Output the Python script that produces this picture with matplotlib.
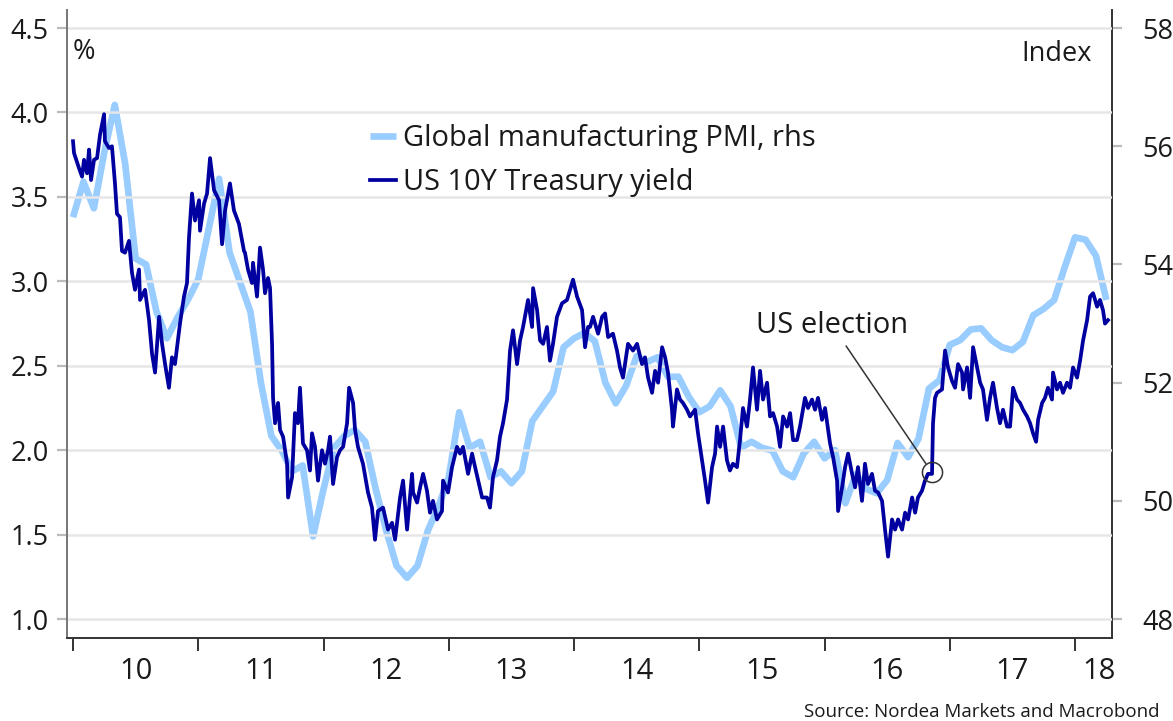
import matplotlib
matplotlib.use("Agg")
import matplotlib.pyplot as plt
import numpy as np

plt.rcParams['font.family'] = ['Open Sans', 'DejaVu Sans']

# ---------------- data ----------------
# Global manufacturing PMI (monthly, Jan 2010 -> Apr 2018), right axis
pmi_start_year = 2010
pmi_values = [
    54.8, 55.4, 54.95, 55.9, 56.7, 55.7, 54.1, 54.0, 53.2, 52.75, 53.1, 53.4,   # 2010
    53.75, 54.6, 55.45, 54.2, 53.7, 53.2, 52.0, 51.1, 50.85, 50.5, 50.6, 49.4,  # 2011
    50.2, 50.9, 51.1, 51.2, 51.0, 50.2, 49.5, 48.9, 48.7, 48.9, 49.5, 49.9,     # 2012
    50.4, 51.5, 50.9, 51.0, 50.4, 50.5, 50.3, 50.5, 51.35, 51.6, 51.85, 52.6,   # 2013
    52.75, 52.84, 52.7, 52.0, 51.65, 51.95, 52.45, 52.35, 52.43, 52.1, 52.1, 51.76,  # 2014
    51.5, 51.6, 51.87, 51.6, 50.9, 51.0, 50.9, 50.85, 50.5, 50.4, 50.8, 51.0,   # 2015
    50.72, 50.86, 49.96, 50.45, 50.2, 50.13, 50.35, 50.98, 50.74, 51.05, 51.9, 52.04,  # 2016
    52.64, 52.72, 52.9, 52.92, 52.72, 52.6, 52.55, 52.69, 53.14, 53.25, 53.4, 53.95,   # 2017
    54.46, 54.42, 54.15, 53.4,                                                  # 2018
]

# US 10Y Treasury yield (%), left axis: decimal year and value
yield_time = [
    2010.000, 2010.008, 2010.048, 2010.072, 2010.088, 2010.112, 2010.128, 2010.144, 2010.168, 2010.192,
    2010.216, 2010.248, 2010.255, 2010.287, 2010.311, 2010.335, 2010.351, 2010.375, 2010.391, 2010.415,
    2010.447, 2010.471, 2010.495, 2010.527, 2010.535, 2010.575, 2010.607, 2010.631, 2010.655, 2010.687,
    2010.711, 2010.735, 2010.766, 2010.790, 2010.814, 2010.854, 2010.886, 2010.910, 2010.926, 2010.950,
    2010.974, 2011.006, 2011.014, 2011.046, 2011.070, 2011.094, 2011.126, 2011.166, 2011.190, 2011.214,
    2011.253, 2011.285, 2011.325, 2011.365, 2011.373, 2011.397, 2011.429, 2011.437, 2011.469, 2011.493,
    2011.517, 2011.533, 2011.557, 2011.573, 2011.589, 2011.597, 2011.613, 2011.637, 2011.653, 2011.677,
    2011.709, 2011.717, 2011.749, 2011.772, 2011.796, 2011.812, 2011.836, 2011.868, 2011.892, 2011.908,
    2011.932, 2011.956, 2011.988, 2012.012, 2012.036, 2012.052, 2012.076, 2012.108, 2012.132, 2012.156,
    2012.188, 2012.204, 2012.236, 2012.252, 2012.275, 2012.315, 2012.355, 2012.387, 2012.411, 2012.435,
    2012.475, 2012.515, 2012.547, 2012.571, 2012.611, 2012.635, 2012.667, 2012.707, 2012.715, 2012.747,
    2012.771, 2012.795, 2012.826, 2012.850, 2012.874, 2012.906, 2012.946, 2012.954, 2012.994, 2013.026,
    2013.066, 2013.090, 2013.114, 2013.154, 2013.186, 2013.210, 2013.266, 2013.305, 2013.329, 2013.353,
    2013.385, 2013.409, 2013.433, 2013.465, 2013.489, 2013.513, 2013.545, 2013.569, 2013.593, 2013.633,
    2013.665, 2013.673, 2013.705, 2013.729, 2013.753, 2013.784, 2013.808, 2013.832, 2013.864, 2013.904,
    2013.944, 2013.992, 2014.024, 2014.064, 2014.088, 2014.112, 2014.128, 2014.152, 2014.192, 2014.224,
    2014.248, 2014.272, 2014.311, 2014.343, 2014.367, 2014.391, 2014.431, 2014.471, 2014.503, 2014.543,
    2014.567, 2014.591, 2014.623, 2014.647, 2014.671, 2014.703, 2014.727, 2014.750, 2014.782, 2014.790,
    2014.822, 2014.846, 2014.870, 2014.902, 2014.926, 2014.966, 2014.990, 2015.022, 2015.046, 2015.070,
    2015.102, 2015.126, 2015.142, 2015.166, 2015.190, 2015.221, 2015.245, 2015.269, 2015.301, 2015.325,
    2015.349, 2015.381, 2015.405, 2015.429, 2015.461, 2015.485, 2015.509, 2015.541, 2015.565, 2015.589,
    2015.621, 2015.645, 2015.669, 2015.701, 2015.725, 2015.749, 2015.780, 2015.804, 2015.844, 2015.868,
    2015.900, 2015.924, 2015.948, 2015.980, 2016.004, 2016.044, 2016.068, 2016.100, 2016.108, 2016.140,
    2016.164, 2016.188, 2016.220, 2016.244, 2016.267, 2016.299, 2016.323, 2016.347, 2016.379, 2016.403,
    2016.427, 2016.459, 2016.483, 2016.507, 2016.539, 2016.563, 2016.587, 2016.619, 2016.643, 2016.667,
    2016.699, 2016.723, 2016.746, 2016.778, 2016.802, 2016.826, 2016.858, 2016.866, 2016.882, 2016.898,
    2016.938, 2016.962, 2016.986, 2017.018, 2017.042, 2017.066, 2017.098, 2017.106, 2017.138, 2017.162,
    2017.186, 2017.218, 2017.242, 2017.265, 2017.297, 2017.321, 2017.345, 2017.377, 2017.401, 2017.425,
    2017.457, 2017.481, 2017.505, 2017.537, 2017.561, 2017.585, 2017.617, 2017.641, 2017.665, 2017.689,
    2017.705, 2017.737, 2017.760, 2017.784, 2017.816, 2017.824, 2017.856, 2017.880, 2017.904, 2017.936,
    2017.960, 2017.984, 2018.016, 2018.040, 2018.064, 2018.096, 2018.120, 2018.144, 2018.176, 2018.199,
    2018.223, 2018.239, 2018.263,
]
yield_values = [
    3.83, 3.76, 3.67, 3.62, 3.72, 3.64, 3.78, 3.60, 3.72, 3.73,
    3.87, 3.99, 3.83, 3.79, 3.80, 3.58, 3.40, 3.38, 3.18, 3.17,
    3.24, 3.05, 2.95, 3.07, 2.89, 2.95, 2.77, 2.57, 2.46, 2.79,
    2.63, 2.51, 2.37, 2.55, 2.51, 2.75, 2.91, 2.99, 3.26, 3.52,
    3.36, 3.48, 3.30, 3.46, 3.52, 3.73, 3.54, 3.48, 3.22, 3.42,
    3.58, 3.42, 3.34, 3.18, 3.17, 3.07, 2.99, 3.11, 2.91, 3.20,
    3.07, 2.93, 3.02, 2.96, 2.63, 2.31, 2.16, 2.28, 2.12, 2.08,
    1.92, 1.72, 1.84, 2.22, 2.16, 2.37, 2.04, 2.00, 1.88, 2.10,
    2.02, 1.82, 2.00, 1.92, 2.00, 2.08, 1.80, 1.96, 2.00, 2.02,
    2.16, 2.37, 2.28, 2.12, 2.02, 1.92, 1.75, 1.66, 1.47, 1.64,
    1.66, 1.53, 1.57, 1.47, 1.72, 1.82, 1.53, 1.86, 1.75, 1.69,
    1.78, 1.86, 1.76, 1.63, 1.70, 1.59, 1.64, 1.82, 1.75, 1.90,
    2.02, 1.98, 2.02, 1.86, 1.98, 1.90, 1.72, 1.72, 1.66, 1.84,
    1.94, 2.08, 2.16, 2.30, 2.59, 2.71, 2.51, 2.65, 2.73, 2.89,
    2.73, 2.96, 2.83, 2.65, 2.63, 2.73, 2.53, 2.63, 2.79, 2.87,
    2.89, 3.01, 2.91, 2.83, 2.61, 2.73, 2.73, 2.79, 2.69, 2.79,
    2.81, 2.67, 2.69, 2.59, 2.49, 2.43, 2.63, 2.59, 2.63, 2.51,
    2.55, 2.43, 2.34, 2.47, 2.40, 2.61, 2.55, 2.46, 2.24, 2.14,
    2.36, 2.30, 2.28, 2.24, 2.20, 2.24, 2.10, 1.94, 1.82, 1.69,
    1.90, 1.98, 2.14, 2.02, 2.14, 1.94, 1.88, 1.92, 1.90, 2.06,
    2.25, 2.14, 2.30, 2.49, 2.24, 2.47, 2.30, 2.40, 2.20, 2.22,
    2.14, 2.02, 2.20, 2.14, 2.22, 2.06, 2.06, 2.14, 2.31, 2.25,
    2.30, 2.24, 2.31, 2.18, 2.25, 2.04, 1.96, 1.82, 1.64, 1.78,
    1.90, 1.98, 1.86, 1.78, 1.90, 1.70, 1.92, 1.80, 1.86, 1.76,
    1.75, 1.70, 1.53, 1.37, 1.59, 1.53, 1.59, 1.53, 1.63, 1.59,
    1.72, 1.63, 1.72, 1.76, 1.82, 1.86, 1.86, 2.16, 2.31, 2.34,
    2.36, 2.59, 2.49, 2.41, 2.37, 2.51, 2.46, 2.36, 2.49, 2.31,
    2.61, 2.49, 2.40, 2.36, 2.18, 2.31, 2.40, 2.25, 2.16, 2.24,
    2.14, 2.14, 2.37, 2.30, 2.28, 2.24, 2.20, 2.16, 2.10, 2.05,
    2.18, 2.28, 2.31, 2.37, 2.30, 2.46, 2.36, 2.40, 2.34, 2.40,
    2.37, 2.49, 2.43, 2.53, 2.65, 2.77, 2.91, 2.93, 2.85, 2.89,
    2.83, 2.75, 2.77,
]

year_labels = ['10', '11', '12', '13', '14', '15', '16', '17', '18']
left_ticks = [1.0, 1.5, 2.0, 2.5, 3.0, 3.5, 4.0, 4.5]
right_ticks = [48, 50, 52, 54, 56, 58]
election_time = 2016.855
election_yield = 1.87

# ---------------- figure ----------------
LIGHT = '#99CCFF'
DARK = '#0000A0'
TXT = '#1a1a1a'

fig = plt.figure(figsize=(11.73, 7.21), dpi=100)
ax = fig.add_axes([67 / 1173, 1 - 638 / 721, (1112 - 67) / 1173, (638 - 10) / 721])
ax2 = ax.twinx()

pmi_time = [pmi_start_year + i / 12 for i in range(len(pmi_values))]

ylo, yhi = 0.888, 4.607
ax.set_ylim(ylo, yhi)
ax2.set_ylim(48 + (ylo - 1) * 10 / 3.5, 48 + (yhi - 1) * 10 / 3.5)
ax.set_xlim(2009.952, 2018.295)

# grid
for v in left_ticks:
    ax.axhline(v, color='#E6E6E6', lw=1.8, zorder=0)

l_pmi, = ax2.plot(pmi_time, pmi_values, color=LIGHT, lw=4.8, solid_joinstyle='round',
                  solid_capstyle='butt', zorder=2)
l_y, = ax.plot(yield_time, yield_values, color=DARK, lw=2.7, zorder=3)
ax.set_zorder(ax2.get_zorder() + 1)
ax.patch.set_visible(False)

# spines
for a in (ax, ax2):
    a.spines['top'].set_visible(False)
ax.spines['left'].set_color('#777777')
ax.spines['left'].set_linewidth(1.4)
ax2.spines['left'].set_visible(False)
ax.spines['right'].set_visible(False)
ax2.spines['right'].set_color('#333333')
ax2.spines['right'].set_linewidth(1.4)
ax.spines['bottom'].set_color('#333333')
ax.spines['bottom'].set_linewidth(1.4)
ax2.spines['bottom'].set_visible(False)

# y ticks
ax.set_yticks(left_ticks)
ax.set_yticklabels([f'{v:.1f}' for v in left_ticks])
ax.tick_params(axis='y', direction='out', length=7, width=1.6, color='#BBBBBB',
               labelsize=19.5, labelcolor=TXT, pad=6)
ax2.set_yticks(right_ticks)
ax2.set_yticklabels([str(v) for v in right_ticks])
ax2.tick_params(axis='y', direction='out', length=7, width=1.6, color='#BBBBBB',
                labelsize=19.5, labelcolor=TXT, pad=15)

# x ticks: marks at year boundaries, labels mid-year
years = list(range(2010, 2019))
ax.set_xticks(years)
ax.set_xticklabels([])
ax.tick_params(axis='x', which='major', direction='out', length=9, width=1.4, color='#333333')
label_pos = [y + 0.5 for y in years[:-1]] + [2018.19]
ax.set_xticks(label_pos, minor=True)
ax.set_xticklabels(year_labels, minor=True)
ax.tick_params(axis='x', which='minor', length=0, labelsize=21, labelcolor=TXT, pad=14)

# unit labels
ax.text(73 / 1173, 1 - 59 / 721, '%', transform=fig.transFigure, fontsize=19.5,
        color=TXT, ha='left', va='baseline')
ax.text(1092 / 1173, 1 - 61 / 721, 'Index', transform=fig.transFigure, fontsize=19.5,
        color=TXT, ha='right', va='baseline')

# legend
leg = ax.legend([l_pmi, l_y], ['Global manufacturing PMI, rhs', 'US 10Y Treasury yield'],
                loc='upper left', bbox_to_anchor=((370 - 67) / 1045, (638 - 124) / 628),
                frameon=False, fontsize=20.9, handlelength=0.9, handletextpad=0.22,
                labelspacing=0.52, borderaxespad=0, borderpad=0)
for t in leg.get_texts():
    t.set_color(TXT)

# US election annotation
ax.plot([election_time], [election_yield], marker='o', markersize=14.5, markerfacecolor='none',
        markeredgecolor='#333333', markeredgewidth=1.1, zorder=5)
ax.annotate('US election', xy=(election_time, election_yield), xytext=(2016.06, 2.74),
            ha='center', va='center', fontsize=21, color=TXT,
            arrowprops=dict(arrowstyle='-', color='#333333', lw=1.1, shrinkA=3, shrinkB=7.5))

fig.text(1160 / 1173, 1 - 712 / 721, 'Source: Nordea Markets and Macrobond', ha='right',
         va='center', fontsize=13.5, color=TXT)

fig.savefig('out.png', dpi=100)
